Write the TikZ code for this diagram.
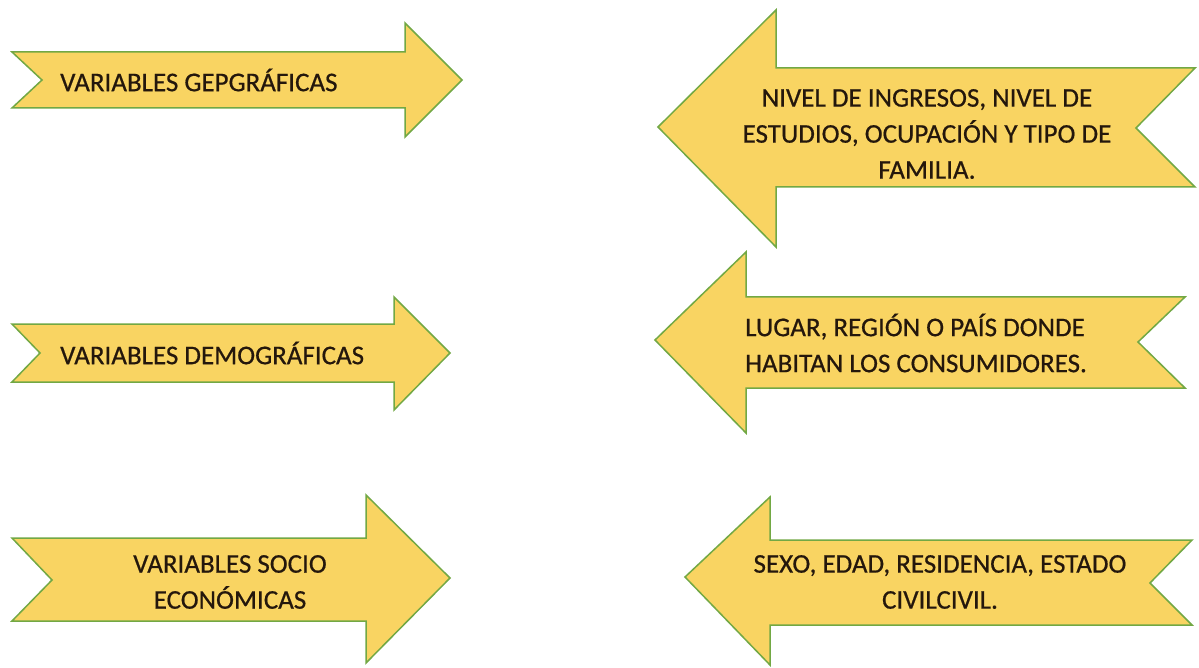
\documentclass[tikz,border=0pt]{standalone}
\usepackage{fontspec}
\setmainfont{Carlito}
\newfontfamily\lblfont{Carlito}[FakeBold=0.6]
\definecolor{arrowfill}{HTML}{F9D462}
\definecolor{arrowline}{HTML}{72A844}
\definecolor{txt}{HTML}{24170C}
\tikzset{
  arrowshape/.style={fill=arrowfill, draw=arrowline, line width=1.5pt, line join=miter},
  lbl/.style={text=txt, font=\lblfont\fontsize{27}{36}\selectfont, inner sep=0pt},
}
\begin{document}
\begin{tikzpicture}[x=1pt,y=-1pt]
\useasboundingbox[fill=white] (0,0) rectangle (1199,668);
% left column (pointing right)
\draw[arrowshape] (12,52) -- (405,52) -- (405,23) -- (462,80) -- (405,137) -- (405,108) -- (12,108) -- (42,80) -- cycle;
\draw[arrowshape] (12,324) -- (394,324) -- (394,297) -- (450,353) -- (394,410) -- (394,382) -- (12,382) -- (40,353) -- cycle;
\draw[arrowshape] (12,538) -- (366,538) -- (366,495) -- (450,578) -- (366,663) -- (366,621) -- (12,621) -- (52,580) -- cycle;
% right column (pointing left)
\draw[arrowshape] (658,127) -- (776,10) -- (776,68) -- (1195,68) -- (1136,128) -- (1195,187) -- (776,187) -- (776,247) -- cycle;
\draw[arrowshape] (655,340) -- (746,252) -- (746,297) -- (1185,297) -- (1138,342) -- (1185,388) -- (746,388) -- (746,433) -- cycle;
\draw[arrowshape] (685,577) -- (770,497) -- (770,540) -- (1192,540) -- (1150,583) -- (1192,625) -- (770,625) -- (770,665) -- cycle;
% labels
\node[lbl, anchor=west] (geo) at (60,80) {VARIABLES GEPGRÁFICAS};
\node[lbl, anchor=west] (dem) at (60,353) {VARIABLES DEMOGRÁFICAS};
\node[lbl, align=center] (soc) at (230,582) {VARIABLES SOCIO\\ECONÓMICAS};
\node[lbl, align=center] (niv) at (927,134) {NIVEL DE INGRESOS, NIVEL DE\\ESTUDIOS, OCUPACIÓN Y TIPO DE\\FAMILIA.};
\node[lbl, align=left, anchor=west] (lug) at (745,343) {LUGAR, REGIÓN O PAÍS DONDE\\HABITAN LOS CONSUMIDORES.};
\node[lbl, align=center] (sex) at (940,582) {SEXO, EDAD, RESIDENCIA, ESTADO\\CIVILCIVIL.};
\end{tikzpicture}
\end{document}
